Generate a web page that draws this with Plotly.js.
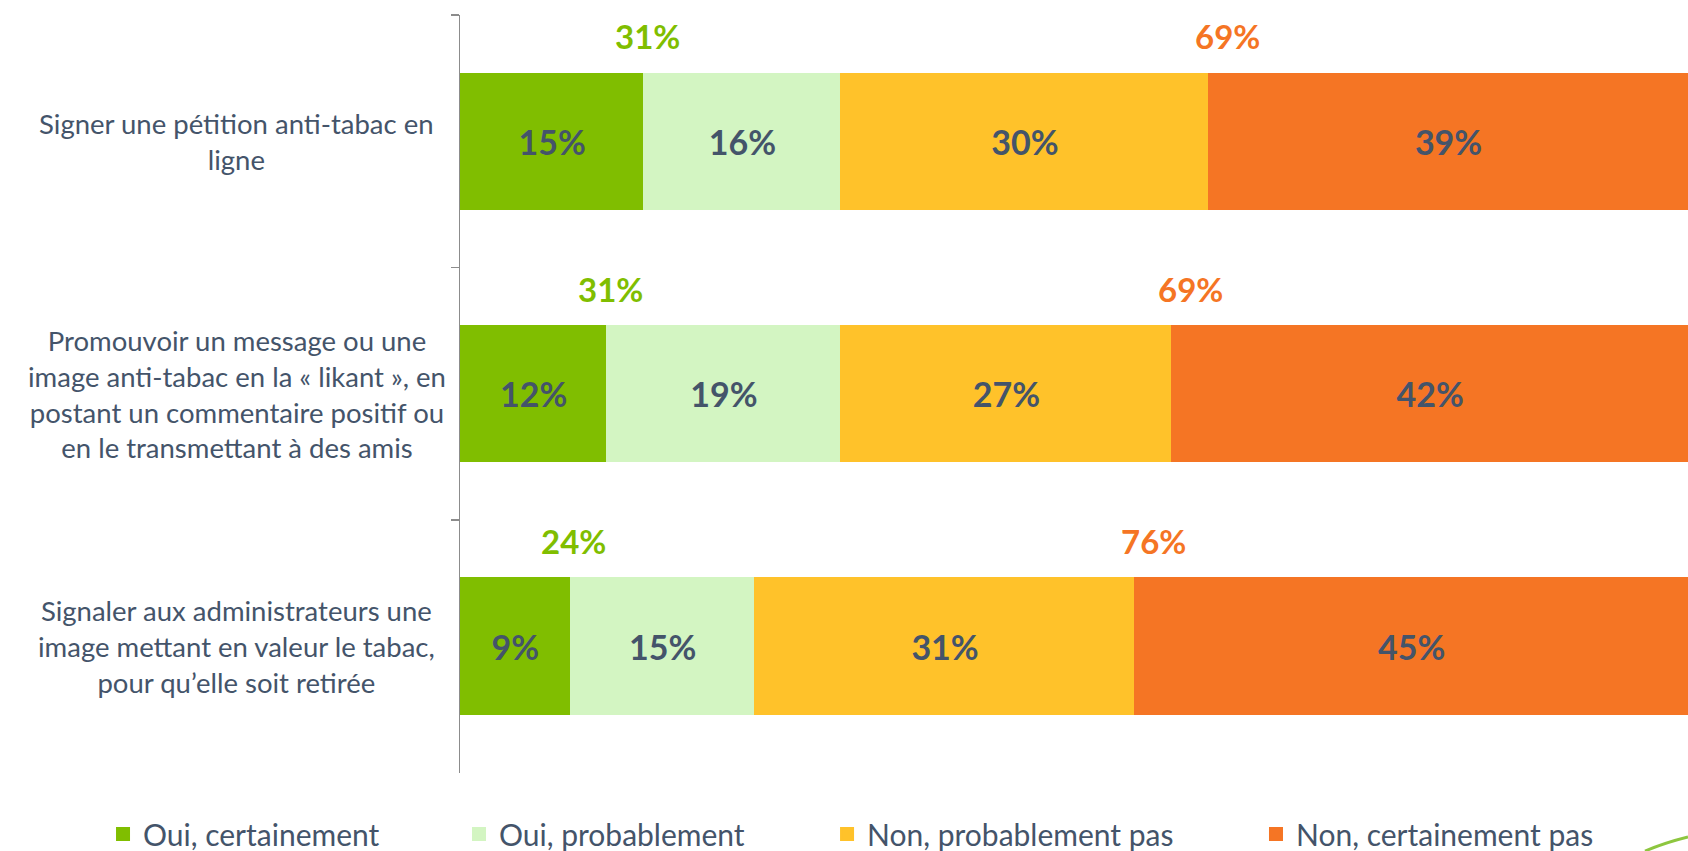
<!DOCTYPE html>
<html><head><meta charset="utf-8">
<script src="https://cdn.plot.ly/plotly-3.0.1.min.js"></script>
<style>html,body{margin:0;padding:0;background:#fff}#chart{width:1688px;height:851px}</style>
</head><body><div id="chart"></div>
<script>
const categories = [
  "Signer une pétition anti-tabac en<br>ligne",
  "Promouvoir un message ou une<br>image anti-tabac en la « likant », en<br>postant un commentaire positif ou<br>en le transmettant à des amis",
  "Signaler aux administrateurs une<br>image mettant en valeur le tabac,<br>pour qu’elle soit retirée"
];
const seriesNames = ["Oui, certainement", "Oui, probablement", "Non, probablement pas", "Non, certainement pas"];
const ouiCertainement = [15, 12, 9];
const ouiProbablement = [16, 19, 15];
const nonProbablementPas = [30, 27, 31];
const nonCertainementPas = [39, 42, 45];
const colors = ["#80BE00", "#D3F5C2", "#FFC22A", "#F57524"];

const FONT = "Lato, 'Open Sans', sans-serif";
const TXT = "#44546A";
const series = [ouiCertainement, ouiProbablement, nonProbablementPas, nonCertainementPas];
const legendIds = ["legend", "legend2", "legend3", "legend4"];

const traces = series.map((vals, i) => ({
  type: "bar", orientation: "h",
  name: seriesNames[i], x: vals, y: categories,
  marker: {color: colors[i], line: {color: colors[i], width: 2}},
  text: vals.map(v => v + "%"), textposition: "inside", insidetextanchor: "middle",
  textfont: {family: FONT, size: 34, color: TXT, weight: "bold"},
  hoverinfo: "skip", legend: legendIds[i]
}));

const annotations = [];
categories.forEach((c, k) => {
  annotations.push({xref: "paper", x: -0.1816, y: c, text: c, showarrow: false,
    xanchor: "center", yanchor: "middle", align: "center",
    font: {family: FONT, size: 27.5, color: TXT}});
  const oui = ouiCertainement[k] + ouiProbablement[k];
  const non = nonProbablementPas[k] + nonCertainementPas[k];
  annotations.push({x: ouiCertainement[k], y: c, text: "<b>" + oui + "%</b>", showarrow: false,
    xanchor: "center", yanchor: "middle", yshift: 105, xshift: 3,
    font: {family: FONT, size: 33, color: colors[0]}});
  annotations.push({x: ouiCertainement[k] + ouiProbablement[k] + nonProbablementPas[k], y: c,
    text: "<b>" + non + "%</b>", showarrow: false,
    xanchor: "center", yanchor: "middle", yshift: 105, xshift: 18,
    font: {family: FONT, size: 33, color: colors[3]}});
});

const legendX = [-0.2907, -0.0008, 0.2989, 0.6482];
const layout = {
  width: 1688, height: 851,
  margin: {l: 460, r: 0, t: 15, b: 78, autoexpand: false},
  paper_bgcolor: "#fff", plot_bgcolor: "#fff",
  barmode: "stack", bargap: 0.465,
  xaxis: {range: [0, 100], visible: false, fixedrange: true},
  yaxis: {autorange: "reversed", showticklabels: false, tickson: "boundaries",
    ticks: "outside", ticklen: 8, tickcolor: "#8C8C8C", tickwidth: 1.5,
    showline: true, linecolor: "#8C8C8C", linewidth: 1.5, showgrid: false, zeroline: false},
  annotations: annotations,
  shapes: [{type: "path", xref: "paper", yref: "paper",
    path: "M 0.965,-0.103 Q 0.981,-0.092 1.0,-0.0844", line: {color: "#8DC63F", width: 3}}],
  showlegend: true
};
legendIds.forEach((id, i) => {
  layout[id] = {orientation: "h", x: legendX[i], xanchor: "left", y: -0.0805, yanchor: "middle",
    font: {family: FONT, size: 30, color: TXT}, bgcolor: "rgba(0,0,0,0)", borderwidth: 0};
});

Plotly.newPlot("chart", traces, layout, {displayModeBar: false, staticPlot: true});
</script></body></html>
